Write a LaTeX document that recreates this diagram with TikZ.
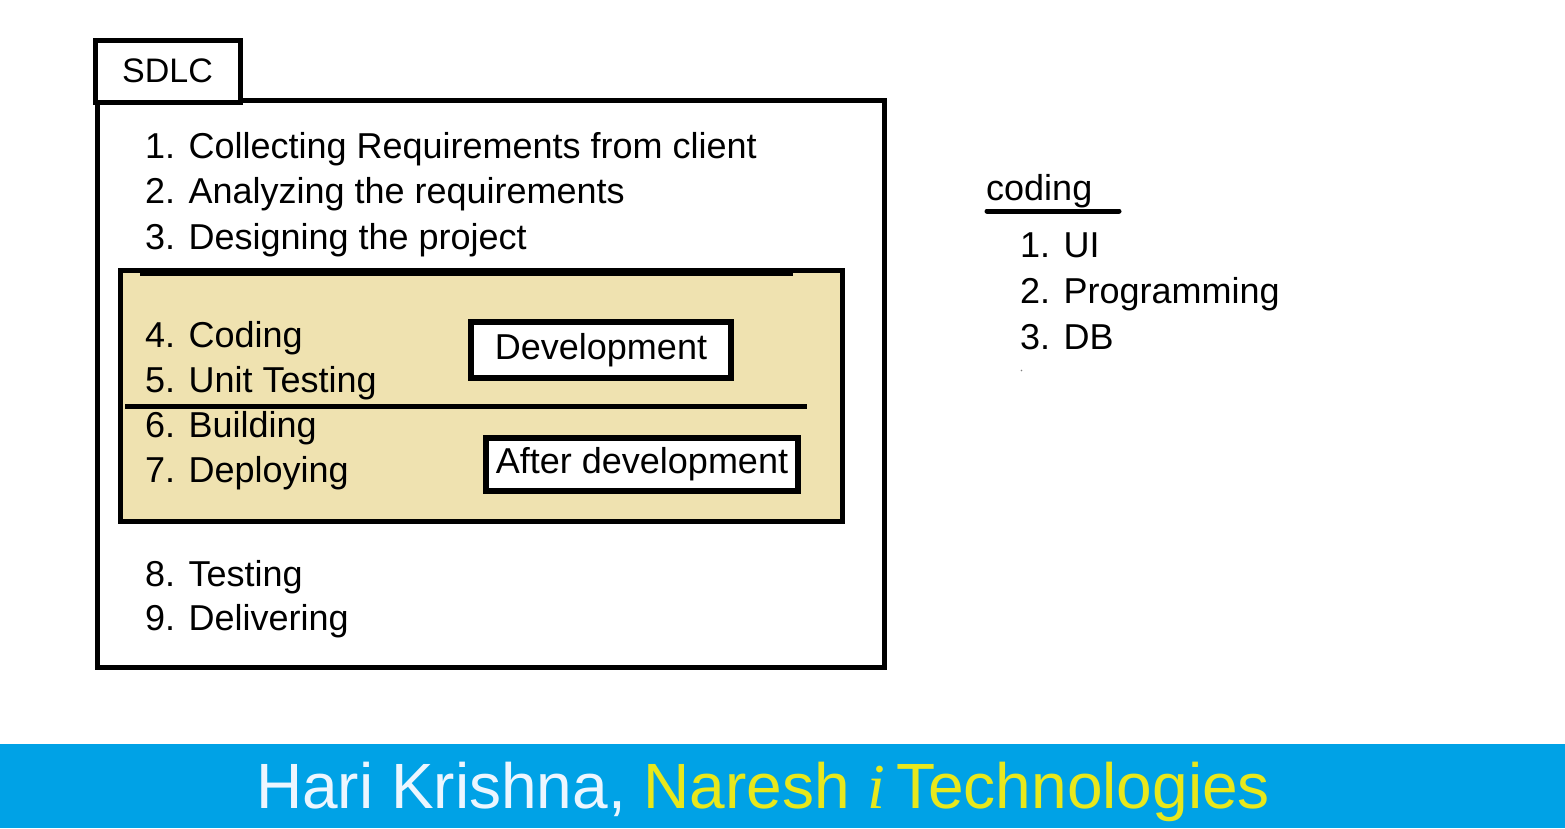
\documentclass[tikz,border=0pt]{standalone}
\usepackage{fontspec}
\setmainfont{Liberation Sans}
\newfontfamily\serifit{Liberation Serif}
\definecolor{beige}{RGB}{239,226,176}
\definecolor{banner}{RGB}{0,162,230}
\definecolor{bannerwhite}{RGB}{236,246,255}
\definecolor{banneryellow}{RGB}{232,232,28}
\tikzset{
  item/.style={anchor=base west, inner sep=0pt, font=\fontsize{36}{43}\selectfont},
  labelbox/.style={draw, line width=6pt, fill=white, inner sep=0pt, font=\fontsize{36}{43}\selectfont},
  frame/.style={draw, line width=5pt}
}
\begin{document}
\begin{tikzpicture}[x=1pt,y=-1pt]
\useasboundingbox (0,0) rectangle (1565,828);
% main box
\draw[frame] (97,100) rectangle (884,667);
% tab
\node[frame, fill=white, minimum width=145pt, minimum height=62pt, inner sep=0pt,
      font=\fontsize{34}{40}\selectfont] (sdlc) at (167.5,71) {SDLC};
% items
\node[item] (i1) at (145,158) {1. Collecting Requirements from client};
\node[item] (i2) at (145,203) {2. Analyzing the requirements};
\node[item] (i3) at (145,249) {3. Designing the project};
% yellow box
\fill[beige] (120,270) rectangle (842,521);
\draw[frame] (120,270) rectangle (842,521);
\draw[line width=7pt] (140,272) -- (793,272);
\node[item] (i4) at (145,347) {4. Coding};
\node[item] (i5) at (145,392) {5. Unit Testing};
\draw[line width=5pt] (125,406) -- (807,406);
\node[item] (i6) at (145,437) {6. Building};
\node[item] (i7) at (145,482) {7. Deploying};
\node[labelbox, minimum width=260pt, minimum height=56pt] (dev) at (601,350) {Development};
\node[labelbox, minimum width=312pt, minimum height=53pt] (after) at (642,464.5) {After development};
\node[item] (i8) at (145,586) {8. Testing};
\node[item] (i9) at (145,630) {9. Delivering};
% right side
\node[item] (coding) at (986,200) {coding};
\draw[line width=5pt, line cap=round] (987,211) -- (1119,211);
\node[item] (r1) at (1020,257) {1. UI};
\node[item] (r2) at (1020,303) {2. Programming};
\node[item] (r3) at (1020,349) {3. DB};
\fill[gray] (1021.5,370.5) circle (0.8pt);
% banner
\fill[banner] (0,744) rectangle (1565,828);
\node[anchor=base, inner sep=0pt, font=\fontsize{64}{70}\selectfont] (ban) at (763,808)
  {\textcolor{bannerwhite}{Hari Krishna,} \textcolor{banneryellow}{Naresh {\serifit\itshape i}\,Technologies}};
\end{tikzpicture}
\end{document}
